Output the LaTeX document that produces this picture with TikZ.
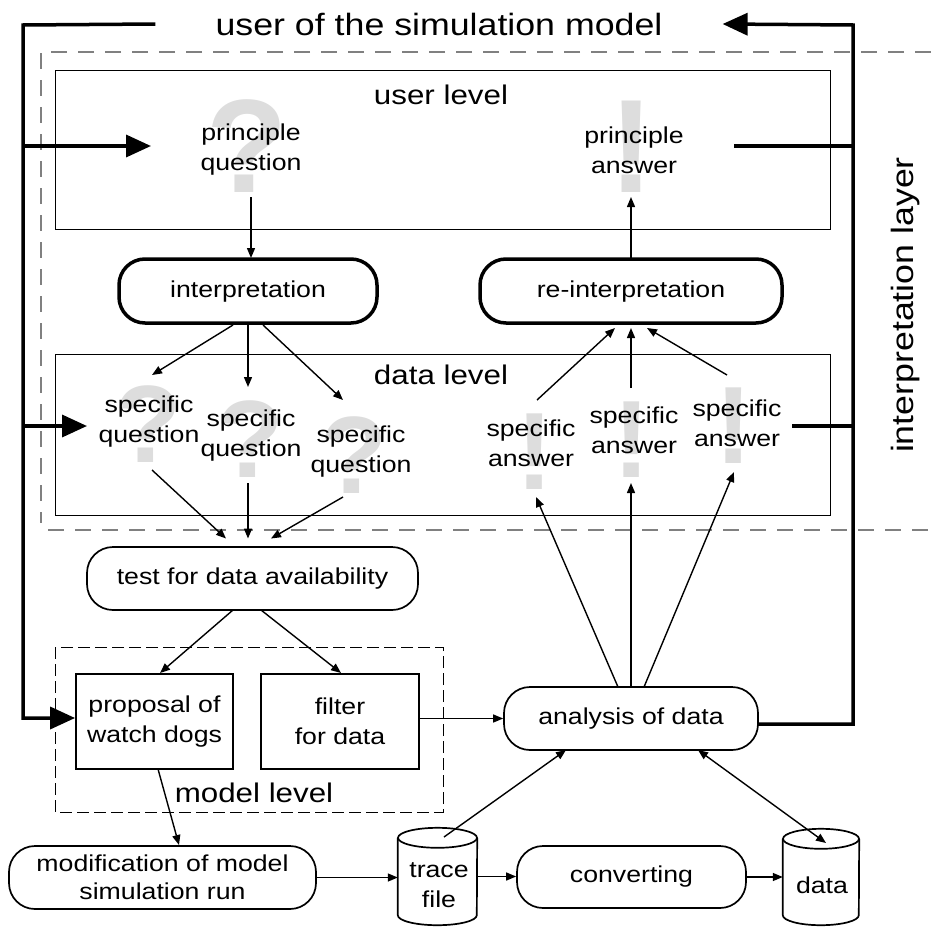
\documentclass[tikz,border=0pt]{standalone}
\usepackage{fontspec}
\setmainfont{Liberation Sans}[FakeStretch=1.16]
\newfontfamily\markfont{Liberation Sans}
\usetikzlibrary{arrows.meta}
\definecolor{markgray}{RGB}{221,221,221}
\definecolor{dashgray}{RGB}{128,128,128}
\tikzset{
  txt/.style={font=\fontsize{23}{30}\selectfont, align=center, inner sep=0pt},
  lvl/.style={font=\fontsize{27}{32}\selectfont, inner sep=0pt},
  qmark/.style={font=\markfont\bfseries\fontsize{133}{133}\selectfont, text=markgray, inner sep=0pt, anchor=base},
  smark/.style={qmark, font=\markfont\bfseries\fontsize{110}{110}\selectfont},
  heavybox/.style={draw, line width=3.5pt, rounded corners=26pt, font=\fontsize{23}{30}\selectfont, text height=16.8pt, text depth=4.8pt, inner sep=0pt},
  roundbox/.style={draw, line width=1.7pt, rounded corners=26pt, font=\fontsize{23}{30}\selectfont, align=center, inner sep=0pt},
  rectbox/.style={draw, line width=1.8pt, font=\fontsize{23}{30}\selectfont, align=center, inner sep=0pt},
  arr/.style={line width=1.4pt, -{Triangle[length=10pt,width=8pt]}},
  darr/.style={line width=1.4pt, {Triangle[length=10pt,width=8pt]}-{Triangle[length=10pt,width=8pt]}},
  flow/.style={line width=3.5pt},
  flowarr/.style={line width=3.5pt, -{Triangle[length=25pt,width=22pt]}},
  framebox/.style={draw, line width=0.9pt},
  graydash/.style={draw=dashgray, line width=1.3pt, dash pattern=on 16pt off 11pt},
  modeldash/.style={draw, line width=1pt, dash pattern=on 12pt off 5pt},
  cylline/.style={draw, line width=1.7pt},
}
\begin{document}
\begin{tikzpicture}[x=1pt,y=1pt]
\useasboundingbox (0,0) rectangle (931,-926);
% dashed interpretation layer region
\draw[graydash] (931,-52) -- (41,-52) -- (41,-523);
\draw[graydash] (48,-530) -- (931,-530);
% level frames
\draw[framebox] (55,-70) rectangle (830,-229);
\draw[framebox] (55,-354) rectangle (830,-515);
\draw[modeldash] (55,-647) rectangle (443,-812);
% gray marks
\node[qmark] (mq0) at (247,-192) {?};
\node[qmark] (ma0) at (632,-192) {!};
\node[smark] (mq1) at (148,-462) {?};
\node[smark] (mq2) at (250,-477) {?};
\node[smark] (mq3) at (354,-493) {?};
\node[smark] (ma1) at (535,-489) {!};
\node[smark] (ma2) at (632,-477) {!};
\node[smark] (ma3) at (734,-463) {!};
% texts
\node[font=\fontsize{30.8}{36}\selectfont, inner xsep=60pt, inner ysep=0pt] (user) at (439,-24) {user of the simulation model};
\node[lvl] (ulvl) at (441,-95) {user level};
\node[lvl] (dlvl) at (441,-375) {data level};
\node[lvl] (mlvl) at (254,-793) {model level};
\node[rotate=90, font=\fontsize{30.8}{36}\selectfont, inner sep=0pt] (layer) at (906,-305) {interpretation layer};
\node[txt] (pq) at (251,-150) {principle\\question};
\node[txt] (pa) at (634,-150) {principle\\answer};
\node[txt] (sq1) at (149,-422) {specific\\question};
\node[txt] (sq2) at (251,-436) {specific\\question};
\node[txt] (sq3) at (361,-452) {specific\\question};
\node[txt] (sa1) at (531,-443) {specific\\answer};
\node[txt] (sa2) at (634,-430) {specific\\answer};
\node[txt] (sa3) at (737,-423) {specific\\answer};
% boxes
\node[heavybox, minimum width=258pt, minimum height=64pt] (interp) at (248,-291) {interpretation};
\node[heavybox, minimum width=302pt, minimum height=64pt] (re) at (631,-291) {re-interpretation};
\node[roundbox, minimum width=331pt, minimum height=63pt] (test) at (252.5,-578.5) {test for data availability};
\node[rectbox, minimum width=157pt, minimum height=95pt] (prop) at (154.5,-721.5) {proposal of\\watch dogs};
\node[rectbox, minimum width=158pt, minimum height=95pt] (filt) at (340,-721.5) {filter\\for data};
\node[roundbox, minimum width=254pt, minimum height=63pt] (ana) at (631,-718.5) {analysis of data};
\node[roundbox, minimum width=307pt, minimum height=63pt, font=\fontsize{23}{28}\selectfont] (mod) at (162.5,-877.5) {modification of model\\simulation run};
\node[roundbox, minimum width=229pt, minimum height=62pt] (conv) at (631.5,-877) {converting};
% cylinders
\node[minimum width=79pt, minimum height=97pt, inner sep=0pt] (trace) at (437.5,-876.5) {};
\draw[cylline] ([yshift=-10pt]trace.north west) -- ([yshift=10pt]trace.south west)
  arc[start angle=180, end angle=360, x radius=39.5, y radius=10] -- ([yshift=-10pt]trace.north east);
\draw[cylline] ([yshift=-10pt]trace.north) ellipse[x radius=39.5, y radius=10];
\node[txt] (tracetxt) at (439,-885) {trace\\file};
\node[minimum width=76pt, minimum height=96pt, inner sep=0pt] (data) at (821,-877) {};
\draw[cylline] ([yshift=-10pt]data.north west) -- ([yshift=10pt]data.south west)
  arc[start angle=180, end angle=360, x radius=38, y radius=10] -- ([yshift=-10pt]data.north east);
\draw[cylline] ([yshift=-10pt]data.north) ellipse[x radius=38, y radius=10];
\node[txt] (datatxt) at (822,-885) {data};
% thick flow lines
\coordinate (LT) at (23,-25);
\coordinate (LB) at (23,-718);
\coordinate (LQ) at (23,-146);
\coordinate (LS) at (23,-426);
\coordinate (RT) at (853,-25);
\coordinate (RB) at (853,-724);
\coordinate (RQ) at (853,-146);
\coordinate (RS) at (853,-426);
\draw[flowarr] (user.west) -- (LT) -- (LB) -- ([yshift=3.5pt]prop.west);
\draw[flowarr] (LQ) -- ([shift={(-100pt,4pt)}]pq.center);
\draw[flowarr] (LS) -- ([shift={(-62pt,-4pt)}]sq1.center);
\draw[flowarr] ([shift={(127pt,-5.5pt)}]ana.center) -- (RB) -- (RT) -- (user.east);
\draw[flow] ([shift={(100pt,4pt)}]pa.center) -- (RQ);
\draw[flow] ([shift={(55pt,-3pt)}]sa3.center) -- (RS);
% thin arrows
\draw[arr] ([shift={(0pt,-47pt)}]pq.center) -- ([shift={(3pt,33pt)}]interp.center);
\draw[arr] ([shift={(0pt,33pt)}]re.center) -- ([shift={(-3pt,-47pt)}]pa.center);
\draw[arr] ([shift={(-15pt,-34pt)}]interp.center) -- ([shift={(3pt,47pt)}]sq1.center);
\draw[arr] ([shift={(0pt,-34pt)}]interp.center) -- ([shift={(-3pt,49pt)}]sq2.center);
\draw[arr] ([shift={(15pt,-34pt)}]interp.center) -- ([shift={(-18pt,52pt)}]sq3.center);
\draw[arr] ([shift={(6pt,43pt)}]sa1.center) -- ([shift={(-16pt,-37pt)}]re.center);
\draw[arr] ([shift={(-3pt,42pt)}]sa2.center) -- ([shift={(0pt,-37pt)}]re.center);
\draw[arr] ([shift={(-10pt,48pt)}]sa3.center) -- ([shift={(16pt,-37pt)}]re.center);
\draw[arr] ([shift={(3pt,-48pt)}]sq1.center) -- ([shift={(-26.5pt,40pt)}]test.center);
\draw[arr] ([shift={(-3pt,-47pt)}]sq2.center) -- ([shift={(-4.5pt,40pt)}]test.center);
\draw[arr] ([shift={(-18pt,-45pt)}]sq3.center) -- ([shift={(18.5pt,40pt)}]test.center);
\draw[arr] ([shift={(-19.5pt,-31.5pt)}]test.center) -- ([shift={(5.5pt,48.5pt)}]prop.center);
\draw[arr] ([shift={(8.5pt,-31.5pt)}]test.center) -- ([shift={(1pt,48.5pt)}]filt.center);
\draw[arr] ([yshift=3pt]filt.east) -- (ana.west);
\draw[arr] ([shift={(3.5pt,-47.5pt)}]prop.center) -- ([shift={(16.5pt,32.5pt)}]mod.center);
\draw[arr] ([shift={(-13pt,31.5pt)}]ana.center) -- ([shift={(5pt,-54pt)}]sa1.center);
\draw[arr] ([shift={(0pt,31.5pt)}]ana.center) -- ([shift={(-3pt,-53pt)}]sa2.center);
\draw[arr] ([shift={(13pt,31.5pt)}]ana.center) -- ([shift={(-3pt,-49pt)}]sa3.center);
\draw[arr] (mod.east) -- (mod.east -| trace.west);
\draw[arr] (trace.east) -- (trace.east -| conv.west);
\draw[arr] (conv.east) -- (conv.east -| data.west);
\draw[arr] ([shift={(6.5pt,39.5pt)}]trace.center) -- ([shift={(-65pt,-31.5pt)}]ana.center);
\draw[darr] ([shift={(67pt,-31.5pt)}]ana.center) -- ([shift={(5pt,34pt)}]data.center);
\end{tikzpicture}
\end{document}
